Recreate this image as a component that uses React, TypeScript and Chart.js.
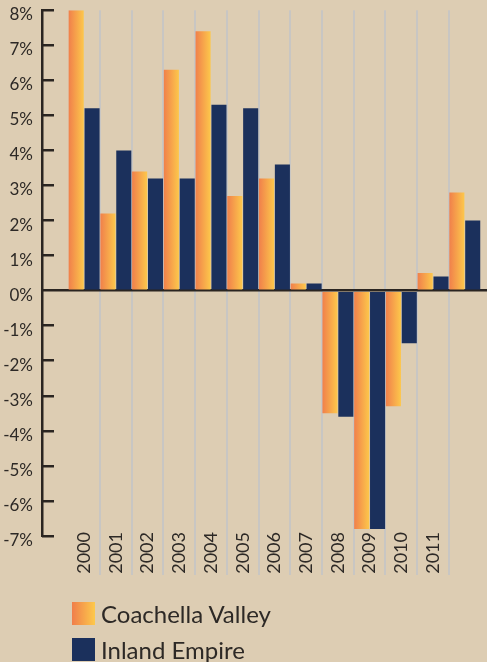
import { useEffect, useRef } from 'react';
import { Chart, registerables } from 'chart.js';

Chart.register(...registerables);

// ---- data ----
const categories = ['2000', '2001', '2002', '2003', '2004', '2005', '2006', '2007', '2008', '2009', '2010', '2011', ''];
const coachellaValley = [8.0, 2.2, 3.4, 6.3, 7.4, 2.7, 3.2, 0.2, -3.5, -6.8, -3.3, 0.5, 2.8];
const inlandEmpire = [5.2, 4.0, 3.2, 3.2, 5.3, 5.2, 3.6, 0.2, -3.6, -6.8, -1.5, 0.4, 2.0];
const seriesNames = ['Coachella Valley', 'Inland Empire'];
const yTickValues = [-7, -6, -5, -4, -3, -2, -1, 0, 1, 2, 3, 4, 5, 6, 7, 8];

// ---- style ----
const W = 487;
const H = 662;
const PLOT_BOTTOM = 536;
const BG = '#ddcdb3';
const NAVY = '#1b305c';
const ORANGE_L = '#f07e4b';
const ORANGE_R = '#fdc94b';
const GRID = '#c8c6c3';
const AXIS = '#2a2521';
const TEXT = '#2d2926';
const FONT = 'Lato, "Noto Sans", sans-serif';
const CLEAR = 'rgba(0,0,0,0)';

export default function App() {
  const canvasRef = useRef<HTMLCanvasElement>(null);

  useEffect(() => {
    document.body.style.margin = '0';
    document.body.style.background = BG;
    const canvas = canvasRef.current;
    if (!canvas) return;

    const orangeFill = (ctx: any) => {
      const chart = ctx.chart;
      const xs = chart.scales && chart.scales.x;
      if (ctx.type !== 'data' || !xs || !chart.chartArea) return ORANGE_L;
      const xv = ctx.raw.x;
      const left = xs.getPixelForValue(xv - 0.5);
      const right = xs.getPixelForValue(xv);
      const g = chart.ctx.createLinearGradient(left, 0, right, 0);
      g.addColorStop(0, ORANGE_L);
      g.addColorStop(1, ORANGE_R);
      return g;
    };

    const xGridColor = (ctx: any) =>
      typeof ctx.index === 'number' && ctx.index >= 1 && ctx.index <= categories.length - 1 ? GRID : CLEAR;

    const chart = new Chart(canvas, {
      type: 'bar',
      data: {
        datasets: [
          {
            label: seriesNames[0],
            data: categories.map((_, i) => ({ x: i, y: coachellaValley[i] })),
            backgroundColor: orangeFill,
            borderWidth: 0,
            barPercentage: 0.95,
            categoryPercentage: 1,
          },
          {
            label: seriesNames[1],
            data: categories.map((_, i) => ({ x: i, y: inlandEmpire[i] })),
            backgroundColor: NAVY,
            borderWidth: 0,
            barPercentage: 0.95,
            categoryPercentage: 1,
          },
        ],
      },
      options: {
        animation: false,
        responsive: false,
        maintainAspectRatio: false,
        layout: { padding: { top: 0, left: 0, right: 0, bottom: H - PLOT_BOTTOM } },
        plugins: {
          legend: { display: false },
          tooltip: { enabled: false },
        },
        scales: {
          x: {
            type: 'linear',
            position: { y: -7 },
            min: -0.95,
            max: 12.7,
            offset: false,
            afterBuildTicks: (s: any) => {
              s.ticks = categories.map((_, i) => ({ value: i }));
            },
            grid: {
              offset: true,
              color: xGridColor,
              tickColor: xGridColor,
              lineWidth: 2,
              tickWidth: 2,
              drawOnChartArea: true,
              drawTicks: true,
              tickLength: 39,
            },
            border: { display: false },
            ticks: {
              autoSkip: false,
              minRotation: 90,
              maxRotation: 90,
              padding: -43,
              color: TEXT,
              font: { family: FONT, size: 18 },
              callback: (v: any) => categories[v] ?? '',
            },
          },
          y: {
            type: 'linear',
            position: 'left',
            weight: 0,
            min: -7,
            max: 8,
            afterBuildTicks: (s: any) => {
              s.ticks = yTickValues.map((v) => ({ value: v }));
            },
            ticks: { display: false },
            grid: {
              drawOnChartArea: true,
              drawTicks: true,
              tickLength: 12,
              color: (ctx: any) => (ctx.tick && ctx.tick.value === 0 ? AXIS : CLEAR),
              lineWidth: 2.5,
              tickColor: AXIS,
              tickWidth: 2.5,
            },
            border: { display: false },
          },
          yAxisLabels: {
            type: 'linear',
            position: 'left',
            weight: 1,
            min: -7,
            max: 8,
            afterBuildTicks: (s: any) => {
              s.ticks = yTickValues.map((v) => ({ value: v }));
            },
            afterFit: (s: any) => {
              s.width = 42;
            },
            ticks: {
              padding: 0,
              labelOffset: 4.5,
              color: TEXT,
              font: { family: FONT, size: 17 },
              callback: (v: any) => `${v}%`,
            },
            grid: {
              drawOnChartArea: false,
              drawTicks: true,
              tickLength: 9,
              tickColor: CLEAR,
              tickWidth: 0,
            },
            border: { display: true, color: AXIS, width: 2.5 },
          },
        },
      },
    } as any);

    return () => {
      chart.destroy();
    };
  }, []);

  const swatches = [`linear-gradient(to right, ${ORANGE_L}, ${ORANGE_R})`, NAVY];

  return (
    <div style={{ position: 'relative', width: W, height: H, background: BG, overflow: 'hidden' }}>
      <canvas ref={canvasRef} width={W} height={H} style={{ display: 'block', width: W, height: H }} />
      <div
        style={{
          position: 'absolute',
          left: 72,
          top: 602,
          fontFamily: FONT,
          fontSize: 24,
          color: TEXT,
        }}
      >
        {seriesNames.map((name, i) => (
          <div key={name} style={{ display: 'flex', alignItems: 'center', height: 23, marginBottom: 13 }}>
            <span style={{ display: 'inline-block', width: 23, height: 23, background: swatches[i], marginRight: 6 }} />
            <span style={{ lineHeight: '23px', whiteSpace: 'nowrap' }}>{name}</span>
          </div>
        ))}
      </div>
    </div>
  );
}
